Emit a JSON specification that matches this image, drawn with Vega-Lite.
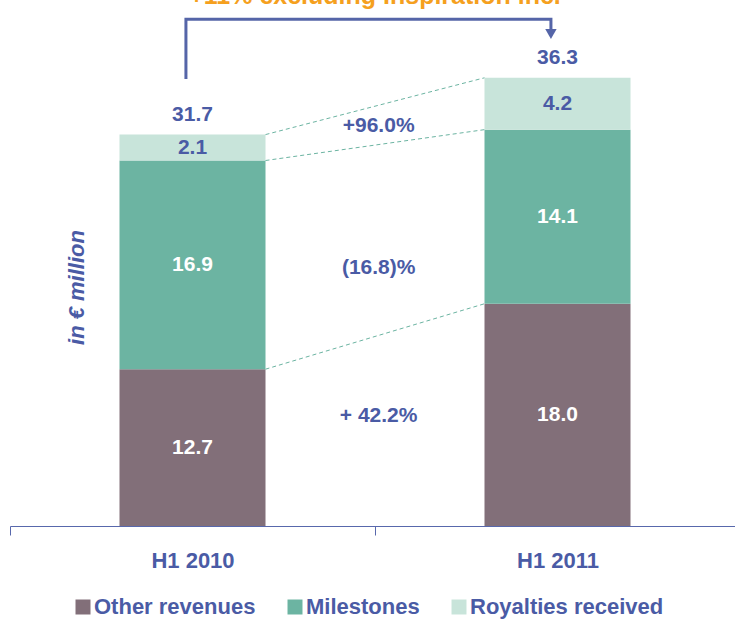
{
  "$schema": "https://vega.github.io/schema/vega-lite/v6.json",
  "width": 730,
  "height": 526,
  "autosize": {"type": "none"},
  "padding": {"left": 10, "top": 0, "right": 0, "bottom": 93},
  "config": {
    "view": {"stroke": null},
    "font": "Liberation Sans",
    "text": {"font": "Liberation Sans", "fontWeight": "bold"}
  },
  "datasets": {
    "bars": [
      {"period": "H1 2010", "cat": "Other revenues", "ord": 1, "value": 12.7},
      {"period": "H1 2010", "cat": "Milestones", "ord": 2, "value": 16.9},
      {"period": "H1 2010", "cat": "Royalties received", "ord": 3, "value": 2.1},
      {"period": "H1 2011", "cat": "Other revenues", "ord": 1, "value": 18.0},
      {"period": "H1 2011", "cat": "Milestones", "ord": 2, "value": 14.1},
      {"period": "H1 2011", "cat": "Royalties received", "ord": 3, "value": 4.2}
    ],
    "connectors": [
      {"id": "royalties", "x": 0.7, "v": 31.7},
      {"id": "royalties", "x": 1.3, "v": 36.3},
      {"id": "milestones", "x": 0.7, "v": 29.6},
      {"id": "milestones", "x": 1.3, "v": 32.1},
      {"id": "other", "x": 0.7, "v": 12.7},
      {"id": "other", "x": 1.3, "v": 18.0}
    ],
    "notes": [
      {"label": "+96.0%", "x": 1.01, "v": 32.4},
      {"label": "(16.8)%", "x": 1.01, "v": 20.9},
      {"label": "+ 42.2%", "x": 1.01, "v": 8.9}
    ],
    "bracket": [
      {"k": 1, "x": 0.482, "v": 36.2},
      {"k": 2, "x": 0.482, "v": 41.05},
      {"k": 3, "x": 1.482, "v": 41.05},
      {"k": 4, "x": 1.482, "v": 40.0}
    ],
    "arrow": [{"x": 1.482, "v": 39.85}],
    "headline": [{"label": "+11% excluding Inspiration inc.", "x": 1.0, "v": 42.27}]
  },
  "layer": [
    {
      "layer": [
        {
          "data": {"name": "bars"},
          "mark": {"type": "bar", "width": {"band": 0.4}},
          "encoding": {
            "x": {
              "field": "period", "type": "nominal",
              "scale": {"paddingInner": 0, "paddingOuter": 0},
              "axis": {
                "title": null, "labelAngle": 0, "tickBand": "extent",
                "domainColor": "#5868AC", "tickColor": "#5868AC", "tickSize": 9,
                "labelFont": "Liberation Sans", "labelFontWeight": "bold", "labelFontSize": 22,
                "labelColor": "#4A5BA5", "labelPadding": 15, "grid": false
              }
            },
            "y": {
              "field": "value", "type": "quantitative", "stack": "zero",
              "scale": {"domain": [0, 42.6], "nice": false, "zero": true},
              "axis": {
                "domain": false, "ticks": false, "labels": false, "grid": false,
                "title": "in € million", "titleFont": "Liberation Sans",
                "titleFontStyle": "italic", "titleFontWeight": "bold", "titleFontSize": 22,
                "titleColor": "#4A5BA5", "titleAngle": 270, "titleX": 66, "titleY": 287,
                "titleAlign": "center", "titleBaseline": "middle"
              }
            },
            "order": {"field": "ord", "type": "quantitative"},
            "color": {
              "field": "cat", "type": "nominal",
              "scale": {
                "domain": ["Other revenues", "Milestones", "Royalties received"],
                "range": ["#826F79", "#6CB4A2", "#C8E4DA"]
              },
              "legend": {
                "title": null, "orient": "none", "direction": "horizontal",
                "legendX": 62, "legendY": 596, "padding": 0,
                "symbolType": "square", "symbolSize": 225, "symbolStrokeWidth": 0,
                "labelFont": "Liberation Sans", "labelFontWeight": "bold", "labelFontSize": 22,
                "labelColor": "#4A5BA5", "labelOffset": 0, "labelLimit": 300,
                "columnPadding": 28
              }
            }
          }
        },
        {
          "data": {"name": "bars"},
          "transform": [
            {"stack": "value", "groupby": ["period"], "sort": [{"field": "ord"}], "as": ["v0", "v1"]},
            {"calculate": "(datum.v0 + datum.v1) / 2", "as": "mid"}
          ],
          "mark": {"type": "text", "fontSize": 21, "baseline": "middle"},
          "encoding": {
            "x": {"field": "period", "type": "nominal"},
            "y": {"field": "mid", "type": "quantitative", "scale": {"domain": [0, 42.6], "nice": false}},
            "text": {"field": "value", "type": "quantitative", "format": ".1f"},
            "color": {
              "condition": {"test": "datum.cat === 'Royalties received'", "value": "#4A5BA5"},
              "value": "#FFFFFF"
            }
          }
        },
        {
          "data": {"name": "bars"},
          "transform": [{"aggregate": [{"op": "sum", "field": "value", "as": "total"}], "groupby": ["period"]}],
          "mark": {"type": "text", "fontSize": 21, "baseline": "alphabetic", "dy": -14, "color": "#4A5BA5"},
          "encoding": {
            "x": {"field": "period", "type": "nominal"},
            "y": {"field": "total", "type": "quantitative", "scale": {"domain": [0, 42.6], "nice": false}},
            "text": {"field": "total", "type": "quantitative", "format": ".1f"}
          }
        }
      ]
    },
    {
      "layer": [
        {
          "data": {"name": "connectors"},
          "mark": {"type": "line", "color": "#6CB4A2", "strokeWidth": 1, "strokeDash": [4, 3]},
          "encoding": {
            "x": {"field": "x", "type": "quantitative", "scale": {"domain": [0, 2], "nice": false, "zero": false}, "axis": null},
            "y": {"field": "v", "type": "quantitative", "scale": {"domain": [0, 42.6], "nice": false}},
            "detail": {"field": "id", "type": "nominal"}
          }
        },
        {
          "data": {"name": "bracket"},
          "mark": {"type": "line", "color": "#5565A8", "strokeWidth": 3, "strokeJoin": "miter"},
          "encoding": {
            "x": {"field": "x", "type": "quantitative", "scale": {"domain": [0, 2], "nice": false, "zero": false}, "axis": null},
            "y": {"field": "v", "type": "quantitative", "scale": {"domain": [0, 42.6], "nice": false}},
            "order": {"field": "k", "type": "quantitative"}
          }
        },
        {
          "data": {"name": "arrow"},
          "mark": {"type": "point", "shape": "triangle-down", "filled": true, "color": "#5565A8", "size": 130, "opacity": 1},
          "encoding": {
            "x": {"field": "x", "type": "quantitative", "scale": {"domain": [0, 2], "nice": false, "zero": false}, "axis": null},
            "y": {"field": "v", "type": "quantitative", "scale": {"domain": [0, 42.6], "nice": false}}
          }
        },
        {
          "data": {"name": "notes"},
          "mark": {"type": "text", "fontSize": 21, "baseline": "middle", "color": "#4A5BA5"},
          "encoding": {
            "x": {"field": "x", "type": "quantitative", "scale": {"domain": [0, 2], "nice": false, "zero": false}, "axis": null},
            "y": {"field": "v", "type": "quantitative", "scale": {"domain": [0, 42.6], "nice": false}},
            "text": {"field": "label", "type": "nominal"}
          }
        },
        {
          "data": {"name": "headline"},
          "mark": {"type": "text", "fontSize": 25, "baseline": "alphabetic", "color": "#F5A01E"},
          "encoding": {
            "x": {"field": "x", "type": "quantitative", "scale": {"domain": [0, 2], "nice": false, "zero": false}, "axis": null},
            "y": {"field": "v", "type": "quantitative", "scale": {"domain": [0, 42.6], "nice": false}},
            "text": {"field": "label", "type": "nominal"}
          }
        }
      ]
    }
  ],
  "resolve": {"scale": {"x": "independent"}}
}
